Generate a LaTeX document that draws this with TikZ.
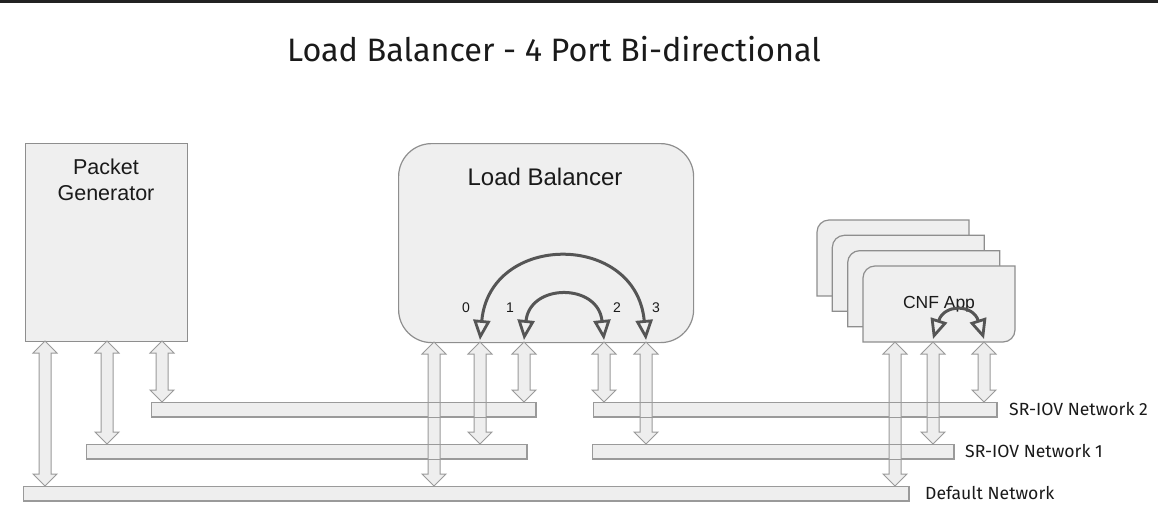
\documentclass[tikz,border=0pt]{standalone}
\usepackage{fontspec}
\setmainfont{Liberation Sans}
\newfontfamily\titlefont{Fira Sans}
\usetikzlibrary{arrows.meta,calc}
\definecolor{boxfill}{HTML}{EFEFEF}
\definecolor{boxline}{HTML}{8E8E8E}
\definecolor{arrfill}{HTML}{EEEEEE}
\definecolor{arrline}{HTML}{9A9A9A}
\definecolor{curvecol}{HTML}{555555}
\definecolor{topbar}{HTML}{222222}
\definecolor{txt}{HTML}{1A1A1A}
\begin{document}
\begin{tikzpicture}[x=1pt,y=-1pt,
  box/.style={draw=boxline, fill=boxfill, line width=1.2pt, inner sep=0pt, anchor=north west},
  card/.style={draw=boxline, fill=boxfill, line width=1.2pt},
  bar/.style={draw=arrline, fill=arrfill, line width=1pt, inner sep=0pt, anchor=north west, minimum height=14},
  barline/.style={draw=arrline, line width=1pt},
  dbl/.style={draw=arrline, fill=arrfill, line width=1pt, line join=miter,
    to path={let \p1=(\tikztostart), \p2=(\tikztotarget) in
      (\x1,\y1) -- (\x1+12pt,\y1-12pt) -- (\x1+6pt,\y1-12pt) -- (\x1+6pt,\y2+12pt)
      -- (\x1+12pt,\y2+12pt) -- (\x1,\y2) -- (\x1-12pt,\y2+12pt) -- (\x1-6pt,\y2+12pt)
      -- (\x1-6pt,\y1-12pt) -- (\x1-12pt,\y1-12pt) -- cycle}},
  curv/.style={draw=curvecol, line width=3pt,
    {Triangle[open, length=20pt, width=17pt, line width=2.8pt]}-{Triangle[open, length=20pt, width=17pt, line width=2.8pt]}},
  boxtext/.style={text=txt, align=center, inner sep=0pt},
  netlabel/.style={text=txt, anchor=west, inner sep=0pt, font=\titlefont\fontsize{17.6}{20}\selectfont}
]
\useasboundingbox (0,0) rectangle (1158,512);
\fill[topbar] (0,0) rectangle (1158,3);

% title
\node[text=txt, inner sep=0pt, font=\titlefont\fontsize{32.4}{38}\selectfont] (title) at (554,49) {Load Balancer - 4 Port Bi-directional};

% packet generator
\node[box, minimum width=162, minimum height=198] (pg) at (25,143) {};
\node[boxtext, font=\fontsize{21.5}{26.5}\selectfont] (pgt) at (106,180) {Packet\\Generator};

% load balancer
\node[box, rounded corners=33, minimum width=295, minimum height=199] (lb) at (398,143) {};
\node[boxtext, font=\fontsize{24}{28}\selectfont] (lbt) at (545,177) {Load Balancer};

% CNF stack
\foreach \i in {0,1,2,3}{
  \pgfmathsetmacro{\xa}{817+15.33*\i}
  \pgfmathsetmacro{\ya}{220+15.33*\i}
  \pgfmathsetmacro{\xb}{\xa+152}
  \pgfmathsetmacro{\yb}{\ya+76}
  \draw[card] (\xa,\yb) -- (\xa,\ya+12) arc(180:270:12) -- (\xb,\ya) -- (\xb,\yb-12) arc(0:90:12) -- cycle;
}
\coordinate (cnf) at (939,304);
\node[boxtext, font=\fontsize{17.5}{20}\selectfont] (cnft) at (cnf) {CNF App};

% networks
\node[bar, minimum width=384] (n2l) at (151,402) {};
\node[bar, minimum width=403] (n2r) at (593,402) {};
\node[bar, minimum width=440] (n1l) at (86,444) {};
\node[bar, minimum width=361] (n1r) at (592,444) {};
\node[bar, minimum width=885] (def) at (23,486) {};

% port labels
\foreach \n/\x in {0/466,1/510,2/617,3/656}{
  \node[text=txt, inner sep=0pt, font=\fontsize{14}{16}\selectfont] (port\n) at (\x,308) {\n};
}

% internal curved arrows
\coordinate (p0) at (480,340);
\coordinate (p1) at (524,340);
\coordinate (p2) at (604,340);
\coordinate (p3) at (646,340);
\draw[curv] (p0) .. controls (490,232) and (636,232) .. (p3);
\draw[curv] (p1) .. controls (530,283) and (598,283) .. (p2);
\coordinate (c1) at (933,339);
\coordinate (c2) at (984,339);
\draw[curv] (c1) .. controls (944,304) and (973,304) .. (c2);

% attachment points
\coordinate (g0) at (45,341);
\coordinate (g1) at (107,341);
\coordinate (g2) at (162,341);
\coordinate (ld) at (434,342);
\coordinate (lp0) at (480,342);
\coordinate (lp1) at (524,342);
\coordinate (lp2) at (604,342);
\coordinate (lp3) at (646,342);
\coordinate (cd) at (895,342);
\coordinate (cp1) at (933,342);
\coordinate (cp2) at (984,342);

% double arrows
\draw[dbl] (g0) to (g0 |- def.north);
\draw[dbl] (g1) to (g1 |- n1l.north);
\draw[dbl] (g2) to (g2 |- n2l.north);
\draw[dbl] (ld) to (ld |- def.north);
\draw[dbl] (lp0) to (lp0 |- n1l.north);
\draw[dbl] (lp1) to (lp1 |- n2l.north);
\draw[dbl] (lp2) to (lp2 |- n2r.north);
\draw[dbl] (lp3) to (lp3 |- n1r.north);
\draw[dbl] (cd) to (cd |- def.north);
\draw[dbl] (cp1) to (cp1 |- n1r.north);
\draw[dbl] (cp2) to (cp2 |- n2r.north);

% bar outlines redrawn on top
\foreach \b in {n2l,n2r,n1l,n1r,def}{
  \draw[barline] (\b.north west) rectangle (\b.south east);
}

% network labels
\node[netlabel] (l2) at (1009,409) {SR-IOV Network 2};
\node[netlabel] (l1) at (965,451) {SR-IOV Network 1};
\node[netlabel] (l0) at (925,493) {Default Network};
\end{tikzpicture}
\end{document}
